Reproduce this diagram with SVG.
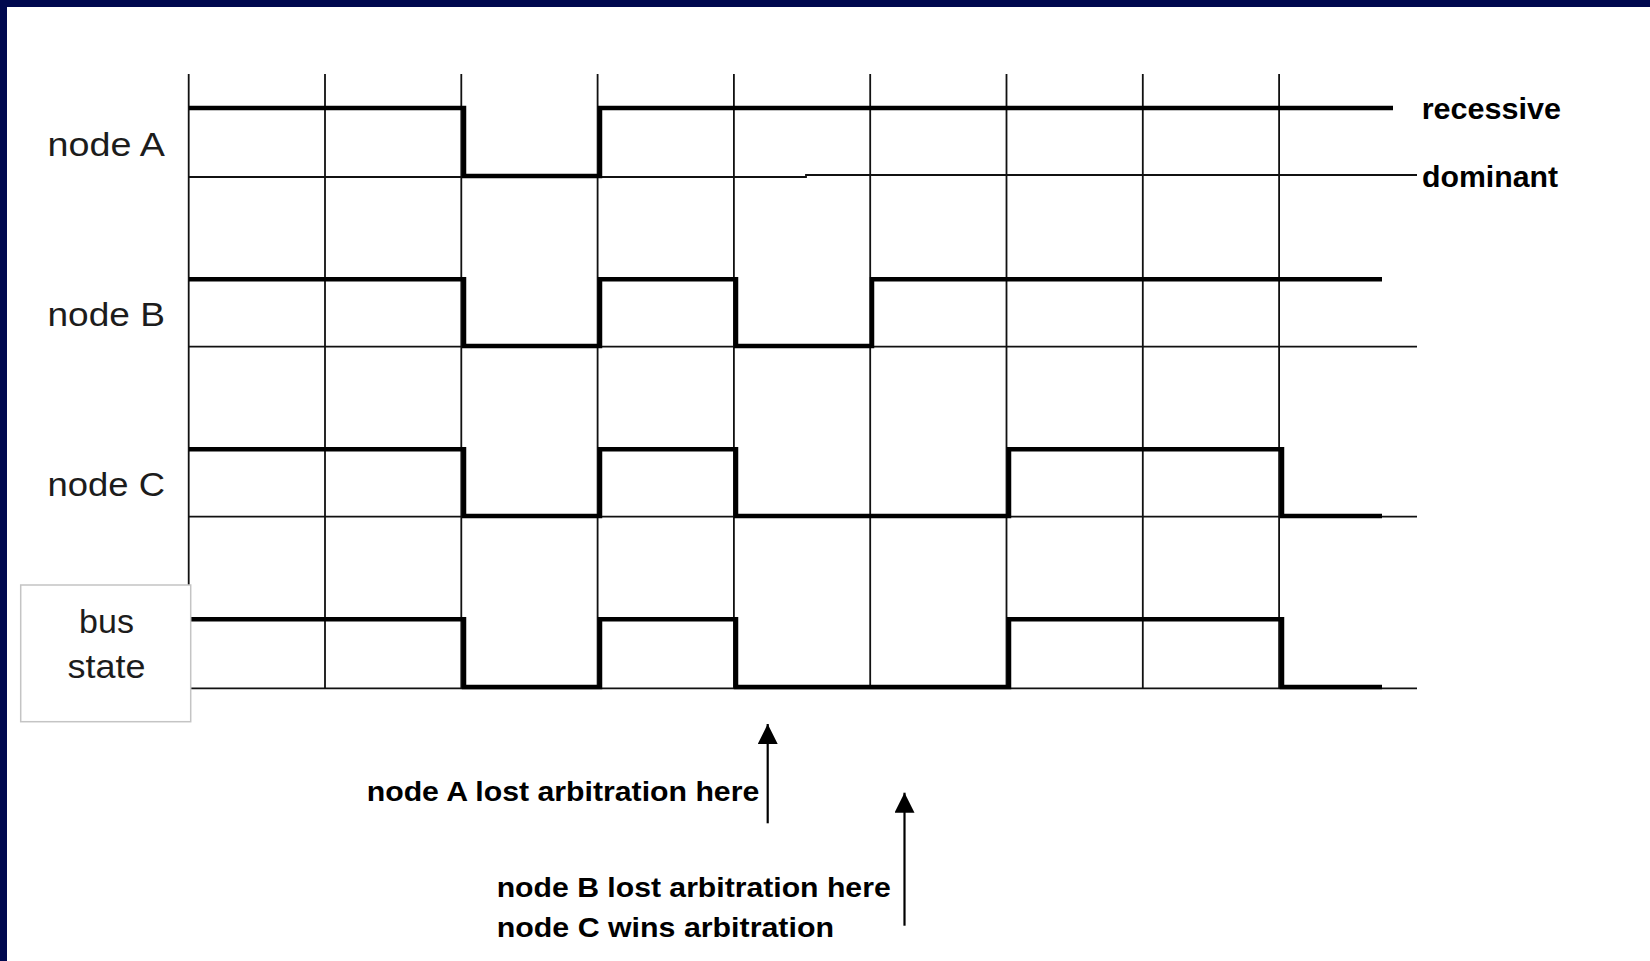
<svg xmlns="http://www.w3.org/2000/svg" width="1650" height="961" viewBox="0 0 1650 961">
<style>
.grid{stroke:#111;stroke-width:1.8;fill:none}
.wave{stroke:#000;stroke-width:4.5;fill:none;stroke-linejoin:miter;stroke-linecap:butt}
.lbl{font-family:"Liberation Sans",Arial,sans-serif;font-size:34px;fill:#1c1c1c}
.blbl{font-family:"Liberation Sans",Arial,sans-serif;font-weight:bold;fill:#000}
.arr{stroke:#000;stroke-width:2.2;fill:none}
</style>
<defs>
<marker id="ah" markerUnits="userSpaceOnUse" viewBox="0 0 20 20" markerWidth="20" markerHeight="20" refX="20" refY="10" orient="auto">
<path d="M0,0 L20,10 L0,20 z" fill="#000"/>
</marker>
</defs>
<rect x="0" y="0" width="1650" height="961" fill="#fff"/>
<rect x="0" y="0" width="1650" height="7" fill="#00084f"/>
<rect x="0" y="0" width="7" height="961" fill="#00084f"/>

<g id="grid">
<path class="grid" d="M188.7,74V688 M325,74V688 M461.3,74V688 M597.6,74V688 M733.9,74V688 M870.2,74V688 M1006.5,74V688 M1142.8,74V688 M1279.1,74V688"/>
</g>

<g id="node-A">
<path class="grid" d="M189,177H806V175H1417"/>
<path class="wave" d="M189,108H464V176H600V108H1393"/>
<text class="lbl" x="47.5" y="155.7" textLength="117.5" lengthAdjust="spacingAndGlyphs">node A</text>
<text class="blbl" x="1421.7" y="119.3" font-size="30" textLength="139.3" lengthAdjust="spacingAndGlyphs">recessive</text>
<text class="blbl" x="1422" y="186.7" font-size="30" textLength="136" lengthAdjust="spacingAndGlyphs">dominant</text>
</g>

<g id="node-B">
<path class="grid" d="M189,346.7H1417"/>
<path class="wave" d="M189,279.3H464V346H600V279.3H736V346H872V279.3H1382"/>
<text class="lbl" x="47.5" y="325.8" textLength="117.5" lengthAdjust="spacingAndGlyphs">node B</text>
</g>

<g id="node-C">
<path class="grid" d="M189,516.7H1417"/>
<path class="wave" d="M189,449.3H464V516H600V449.3H736V516H1009V449.3H1282V516H1382"/>
<text class="lbl" x="47.5" y="495.7" textLength="117.5" lengthAdjust="spacingAndGlyphs">node C</text>
</g>

<g id="bus-state">
<path class="grid" d="M189,688.3H1417"/>
<path class="wave" d="M189,619.3H464V687H600V619.3H736V687H1009V619.3H1282V687H1382"/>
<rect x="20.7" y="585" width="170" height="136.7" fill="#fff" stroke="#c4c4c4" stroke-width="1.5"/>
<text class="lbl" x="106.5" y="632.7" text-anchor="middle">bus</text>
<text class="lbl" x="106.5" y="678" text-anchor="middle" textLength="78" lengthAdjust="spacingAndGlyphs">state</text>
</g>

<g id="connectors">
<line class="arr" x1="767.7" y1="823.3" x2="767.7" y2="724" marker-end="url(#ah)"/>
<line class="arr" x1="904.5" y1="925.7" x2="904.5" y2="792.7" marker-end="url(#ah)"/>
</g>

<g id="annotation-A">
<text class="blbl" x="366.7" y="800.7" font-size="28" textLength="392.6" lengthAdjust="spacingAndGlyphs">node A lost arbitration here</text>
</g>
<g id="annotation-BC">
<text class="blbl" x="496.7" y="896.7" font-size="28" textLength="394" lengthAdjust="spacingAndGlyphs">node B lost arbitration here</text>
<text class="blbl" x="496.7" y="936.7" font-size="28" textLength="337.3" lengthAdjust="spacingAndGlyphs">node C wins arbitration</text>
</g>
</svg>
